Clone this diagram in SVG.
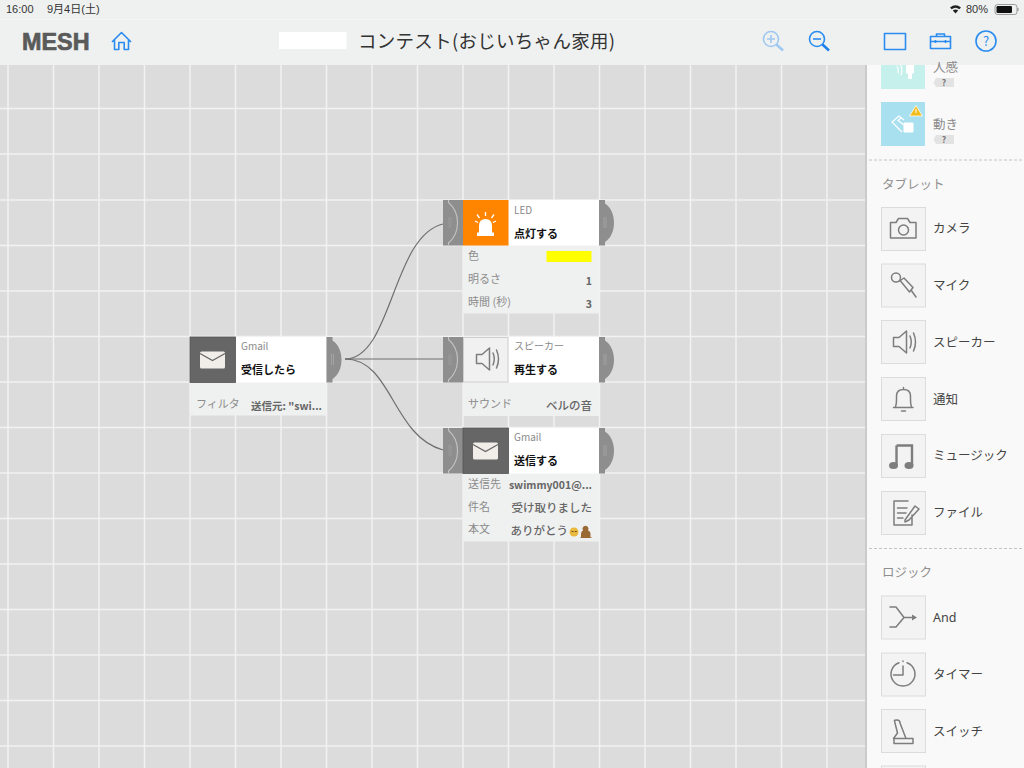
<svg xmlns="http://www.w3.org/2000/svg" width="1024" height="768" viewBox="0 0 1024 768">
<style>
text{font-family:"Noto Sans CJK JP","Noto Sans",sans-serif}
.grid line{stroke:#f2f2f2;stroke-width:1.5}
.conn{fill:none;stroke:#6f6f6f;stroke-width:1.2}
.head{fill:#fff}
.panel{fill:#eff0f0}
.small{font-size:10px;fill:#8a8a8a}
.act{font-size:11px;font-weight:700;fill:#111}
.pk{font-size:11px;fill:#8c8c8c}
.pv{font-size:10.5px;font-weight:700;fill:#666;text-anchor:end}
.pj{font-size:11.5px;font-weight:500;fill:#666;text-anchor:end}
.side{font-size:12.5px;fill:#444}
.sec{font-size:12.5px;fill:#8f8f8f}
.tile{fill:#f3f3f3;stroke:#dcdcdc;stroke-width:1}
.ic{fill:none;stroke:#7d7d7d;stroke-width:1.5;stroke-linejoin:round;stroke-linecap:round}
.blue{fill:none;stroke:#2b8cf0;stroke-width:1.6;stroke-linejoin:round}
.sys{font-size:11px;fill:#333;font-family:"Liberation Sans","Noto Sans CJK JP",sans-serif}
</style>
<defs>
<g id="sock">
<rect x="0" y="0" width="20" height="45.500" fill="#8e8e8e"/>
<path d="M5.500 0V2.500C12 8 14.500 15 14.500 22.700S12 37.500 5.500 43V45.500" fill="none" stroke="#c4c4c4" stroke-width="1.100"/>
<path d="M6 17V28M8 17V28" stroke="#a0a0a0" stroke-width=".8"/>
</g>
<g id="plug">
<path d="M0 0H6V3.500C11.500 7 15 14 15 22.700S11.500 38.500 6 42V45.500H0Z" fill="#8e8e8e"/>
<path d="M5 17V28M7 17V28" stroke="#a8a8a8" stroke-width=".8"/>
</g>
<g id="mail">
<rect width="45.500" height="45.500" fill="#666" stroke="#555" stroke-width=".8"/>
<rect x="10" y="14.500" width="25" height="17" rx="1.500" fill="#f1eeea"/>
<path d="M10 16.500L22.500 23.500L35 16.500" fill="none" stroke="#666" stroke-width="1.300"/>
</g>
<g id="spk">
<path d="M-8.500 -4.500H-3L4.500 -11V11L-3 4.500H-8.500Z"/>
<path d="M8 -6Q10.500 0 8 6M11.500 -9Q15.500 0 11.500 9"/>
</g>
</defs>

<rect width="1024" height="768" fill="#dcdcdc"/>
<g class="grid">
<line x1="8" y1="65" x2="8" y2="768"/><line x1="53.500" y1="65" x2="53.500" y2="768"/><line x1="99" y1="65" x2="99" y2="768"/><line x1="144.500" y1="65" x2="144.500" y2="768"/><line x1="190" y1="65" x2="190" y2="768"/><line x1="235.500" y1="65" x2="235.500" y2="768"/><line x1="281" y1="65" x2="281" y2="768"/><line x1="326.500" y1="65" x2="326.500" y2="768"/><line x1="372" y1="65" x2="372" y2="768"/><line x1="417.500" y1="65" x2="417.500" y2="768"/><line x1="463" y1="65" x2="463" y2="768"/><line x1="508.500" y1="65" x2="508.500" y2="768"/><line x1="554" y1="65" x2="554" y2="768"/><line x1="599.500" y1="65" x2="599.500" y2="768"/><line x1="645" y1="65" x2="645" y2="768"/><line x1="690.500" y1="65" x2="690.500" y2="768"/><line x1="736" y1="65" x2="736" y2="768"/><line x1="781.500" y1="65" x2="781.500" y2="768"/><line x1="827" y1="65" x2="827" y2="768"/>
<line x1="0" y1="108.500" x2="866" y2="108.500"/><line x1="0" y1="154" x2="866" y2="154"/><line x1="0" y1="200" x2="866" y2="200"/><line x1="0" y1="245.500" x2="866" y2="245.500"/><line x1="0" y1="291" x2="866" y2="291"/><line x1="0" y1="336.500" x2="866" y2="336.500"/><line x1="0" y1="382" x2="866" y2="382"/><line x1="0" y1="427.500" x2="866" y2="427.500"/><line x1="0" y1="473" x2="866" y2="473"/><line x1="0" y1="518.500" x2="866" y2="518.500"/><line x1="0" y1="564" x2="866" y2="564"/><line x1="0" y1="609.500" x2="866" y2="609.500"/><line x1="0" y1="655" x2="866" y2="655"/><line x1="0" y1="700.500" x2="866" y2="700.500"/><line x1="0" y1="746" x2="866" y2="746"/>
</g>

<g id="topbar">
<rect width="1024" height="65" fill="#eff1f1"/>
<line x1="0" y1="19.500" x2="1024" y2="19.500" stroke="#f4f5f5"/>
<text x="6" y="13" class="sys">16:00</text>
<text x="47" y="13" class="sys">9月4日(土)</text>
<path d="M950 7.500Q955.500 3 961 7.500L959.300 9.300Q955.500 6.300 951.700 9.300ZM952.800 10.500Q955.500 8.500 958.200 10.500L955.500 13.500Z" fill="#222"/>
<text x="966" y="13" class="sys">80%</text>
<rect x="995" y="4.500" width="22" height="10" rx="2.500" fill="none" stroke="#888" stroke-width=".8"/>
<rect x="996.500" y="6" width="15.500" height="7" rx="1.200" fill="#111"/>
<path d="M1018 8V11" stroke="#888" stroke-width="1"/>
<text x="22" y="49.500" style="font-family:'Liberation Sans',sans-serif;font-size:23px;font-weight:700;fill:#5a5a5a;stroke:#5a5a5a;stroke-width:.7" textLength="67.500" lengthAdjust="spacingAndGlyphs">MESH</text>
<path class="blue" d="M112 42L121.500 32.500L131 42M114.500 40V49.500H118.800V42.500H124.200V49.500H128.500V40"/>
<rect x="279" y="32" width="67.500" height="17" fill="#fff"/>
<text x="358" y="47.500" font-size="18.500" fill="#333" textLength="257">コンテスト(おじいちゃん家用)</text>
<g id="zoom-in" opacity=".4"><circle cx="771" cy="39" r="7.500" class="blue"/><path d="M767 39H775M771 35V43" class="blue"/><path d="M776.500 44.500L783 50.500" stroke="#2b8cf0" stroke-width="2.500"/></g>
<g id="zoom-out"><circle cx="817" cy="39" r="7.500" class="blue"/><path d="M813 39H821" class="blue" stroke-width="2"/><path d="M822.500 44.500L829 50.500" stroke="#1d80ea" stroke-width="2.500"/></g>
<rect x="884.500" y="33.500" width="21" height="16" class="blue"/>
<path class="blue" d="M930.500 36.500H950.500V48.500H930.500ZM936.500 36.500V34H944.500V36.500M930.500 41.500H950.500M935.500 40V43M945.500 40V43" stroke-width="1.200"/>
<circle cx="986" cy="41" r="10" class="blue" stroke-width="1.300"/>
<text x="986" y="46" font-size="13" fill="#2b8cf0" text-anchor="middle">?</text>
</g>

<g id="connectors">
<path class="conn" d="M345 359C392 359 392 236 443 224"/>
<path class="conn" d="M345 359H443"/>
<path class="conn" d="M345 359C392 359 392 436 443 450"/>
</g>

<g id="node-gmail-recv">
<rect x="190" y="382" width="136" height="33.500" class="panel"/>
<rect x="235.500" y="337" width="90.500" height="45.500" class="head"/>
<use href="#mail" x="190" y="337"/>
<use href="#plug" x="326.500" y="337"/>
<text x="241" y="350" class="small">Gmail</text>
<text x="241" y="374" class="act">受信したら</text>
<text x="196" y="408" class="pk">フィルタ</text>
<text x="322" y="410" class="pv" style="font-weight:600">送信元: "swi...</text>
</g>

<g id="node-led">
<use href="#sock" x="443" y="200"/>
<rect x="463" y="245.500" width="136" height="68" class="panel"/>
<rect x="508.500" y="200" width="90.500" height="45.500" class="head"/>
<rect x="463" y="200" width="45.500" height="45.500" fill="#ff8400"/>
<path d="M479 232.500V226Q479 219 485.500 219T492 226V232.500H494V236H477V232.500Z" fill="#fff"/>
<path d="M485.500 212V216M477 214.500L479.500 218M494 214.500L491.500 218M475 221L478 222.500M496 221L493 222.500" stroke="#fff" stroke-width="1.300" fill="none"/>
<use href="#plug" x="599" y="200"/>
<text x="514" y="214" class="small">LED</text>
<text x="514" y="237.500" class="act">点灯する</text>
<text x="468" y="260" class="pk">色</text>
<rect x="546.500" y="251" width="45" height="11" fill="#ffff00"/>
<text x="468" y="283" class="pk">明るさ</text>
<text x="592" y="285" class="pv">1</text>
<text x="468" y="306" class="pk">時間 (秒)</text>
<text x="592" y="308" class="pv">3</text>
</g>

<g id="node-speaker">
<use href="#sock" x="443" y="337"/>
<rect x="463" y="382" width="136" height="34" class="panel"/>
<rect x="508.500" y="337" width="90.500" height="45.500" class="head"/>
<rect x="463.500" y="337.500" width="44.500" height="44.500" fill="#f1f1f1" stroke="#cfcfcf"/>
<use href="#spk" x="485" y="359" class="ic"/>
<use href="#plug" x="599" y="337"/>
<text x="514" y="350" class="small">スピーカー</text>
<text x="514" y="373.500" class="act">再生する</text>
<text x="468" y="408" class="pk">サウンド</text>
<text x="592" y="410" class="pj">ベルの音</text>
</g>

<g id="node-gmail-send">
<use href="#sock" x="443" y="428"/>
<rect x="463" y="473.500" width="136" height="68" class="panel"/>
<rect x="508.500" y="428" width="90.500" height="45.500" class="head"/>
<use href="#mail" x="463" y="428"/>
<use href="#plug" x="599" y="428"/>
<text x="514" y="441" class="small">Gmail</text>
<text x="514" y="464.500" class="act">送信する</text>
<text x="468" y="487.500" class="pk">送信先</text>
<text x="592" y="489" class="pv">swimmy001@...</text>
<text x="468" y="510.500" class="pk">件名</text>
<text x="592" y="512" class="pj">受け取りました</text>
<text x="468" y="533" class="pk">本文</text>
<text x="568" y="535" class="pj">ありがとう</text>
<circle cx="574" cy="532" r="4.500" fill="#e8b93c"/>
<path d="M571.500 531.500H573.500M574.800 531.500H576.800" stroke="#6b4a1e" stroke-width="1"/>
<path d="M581 537.500V534Q581 531 583 530.500A3 3 0 1 1 588 530.500Q590.500 531 590.500 534V537.500H592V538H580V537.500Z" fill="#9a6a35"/>
</g>

<g id="sidebar">
<rect x="866" y="65" width="158" height="703" fill="#f9f9f9"/>
<rect x="865" y="65" width="2" height="703" fill="#cbcbcb"/>
<path d="M881 65H925V89H881Z" fill="#c6f0ec"/>
<path d="M906 65H914V73.500H912V79H908V73.500H906Z" fill="#fff"/>
<path d="M897 66Q899 69 898 73M900.500 65Q903 69 901 75" fill="none" stroke="#fff" stroke-width="1.200"/>
<text x="933" y="71.500" font-size="12.500" fill="#8a8a8a">人感</text>
<path d="M936 78H954V87H936L933.500 82.500Z" fill="#e3e3e3"/><text x="944" y="86" font-size="8.500" font-weight="700" fill="#777" text-anchor="middle">?</text>
<rect x="881" y="102" width="44" height="44" fill="#a9e0f0"/>
<path d="M916 105.500L922.500 116H909.500Z" fill="#f2bd1a" stroke="#fff" stroke-width=".8" stroke-linejoin="round"/>
<path d="M916 109V113" stroke="#fff" stroke-width="1"/>
<rect x="903.500" y="122.500" width="10" height="10" rx="1" fill="#fff"/>
<path d="M902 132L892 122L899 116L904 120M904 125L898 120.500L901 118" fill="none" stroke="#fff" stroke-width="1.200"/>
<text x="933" y="128.500" font-size="12.500" fill="#8a8a8a">動き</text>
<path d="M936 135H954V144H936L933.500 139.500Z" fill="#e3e3e3"/><text x="944" y="143" font-size="8.500" font-weight="700" fill="#777" text-anchor="middle">?</text>
<line x1="869" y1="160" x2="1024" y2="160" stroke="#c4c4c4" stroke-dasharray="3 2"/>
<text x="882" y="188.500" class="sec">タブレット</text>

<g id="item-camera"><rect x="881.500" y="207.500" width="44" height="43" class="tile"/>
<path class="ic" d="M890.500 222.500H896L898.500 218.500H907.500L910 222.500H916V238H890.500Z"/><circle cx="903.500" cy="230" r="5" class="ic"/>
<text x="933" y="232.500" class="side">カメラ</text></g>
<g id="item-mic"><rect x="881.500" y="264" width="44" height="43" class="tile"/>
<circle cx="896" cy="277.500" r="4.500" class="ic"/><path class="ic" d="M899.500 281L904 278L913 287.500L909.500 292L900.500 281M911 290L916 297"/>
<text x="933" y="289.500" class="side">マイク</text></g>
<g id="item-speaker"><rect x="881.500" y="320.500" width="44" height="43" class="tile"/>
<use href="#spk" x="902" y="342" class="ic"/>
<text x="933" y="346.500" class="side">スピーカー</text></g>
<g id="item-notify"><rect x="881.500" y="377.500" width="44" height="43" class="tile"/>
<path class="ic" d="M893.500 407.500H913M895.500 407C897 403 896.500 399 896.500 396Q896.500 389.500 903.500 389.500T910.500 396C910.500 399 910 403 911.500 407M903.500 388.500V387.500M901.500 411H905.500"/>
<text x="933" y="403.500" class="side">通知</text></g>
<g id="item-music"><rect x="881.500" y="434.500" width="44" height="43" class="tile"/>
<path d="M896.500 445.500H912V465M896.500 445.500V465" fill="none" stroke="#7d7d7d" stroke-width="2.400"/><ellipse cx="893.500" cy="465.500" rx="4.500" ry="3.500" fill="#7d7d7d"/><ellipse cx="909" cy="465.500" rx="4.500" ry="3.500" fill="#7d7d7d"/>
<text x="933" y="459.500" class="side">ミュージック</text></g>
<g id="item-file"><rect x="881.500" y="491.500" width="44" height="43" class="tile"/>
<path class="ic" d="M894 501H908M894 501V525H912V515M897.500 508H907M897.500 513H906M897.500 518H903M905 520L915 506L919 509L909 520L905 522Z"/>
<text x="933" y="516.500" class="side">ファイル</text></g>
<line x1="869" y1="548.500" x2="1024" y2="548.500" stroke="#c4c4c4" stroke-dasharray="3 2"/>
<text x="882" y="576.500" class="sec">ロジック</text>
<g id="item-and"><rect x="881.500" y="596" width="44" height="43" class="tile"/>
<path class="ic" d="M890 607H896L904 617.500L896 627H890M904 617.500H913"/><path d="M912 614.500L917 617.500L912 620.500Z" fill="#7d7d7d"/>
<text x="933" y="621.500" style="font-family:'Noto Sans',sans-serif" class="side">And</text></g>
<g id="item-timer"><rect x="881.500" y="653" width="44" height="43" class="tile"/>
<path class="ic" d="M899 662.700A12 12 0 1 0 907 662.700M903 661V661.500M903 666V675H893.500"/>
<text x="933" y="678.500" class="side">タイマー</text></g>
<g id="item-switch"><rect x="881.500" y="709.500" width="44" height="43" class="tile"/>
<path class="ic" d="M894.500 721Q894 720 897 720Q900 720 900 723L906 738.500H893.500L897.500 733ZM893.500 738.500H913V743.500H894V738.500"/>
<text x="933" y="735.500" class="side">スイッチ</text></g>
<rect x="881.500" y="766" width="44" height="4" class="tile"/>
</g>
</svg>
